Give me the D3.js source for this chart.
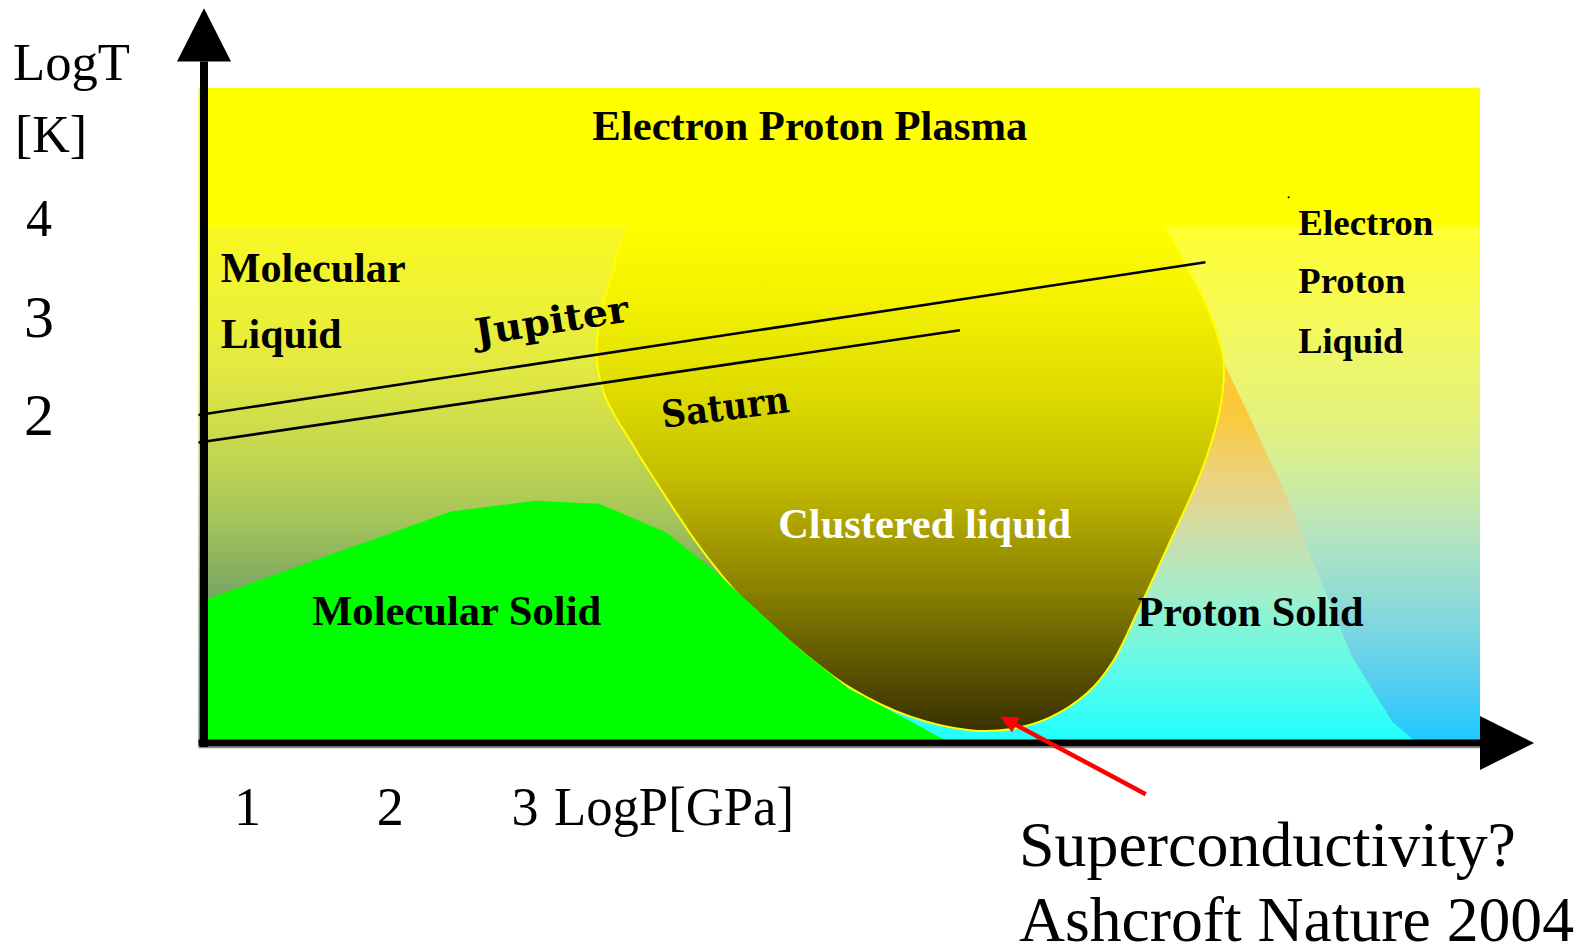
<!DOCTYPE html>
<html><head><meta charset="utf-8">
<script src="https://cdn.jsdelivr.net/npm/d3@7"></script>
<style>html,body{margin:0;padding:0;background:#fff;overflow:hidden}</style>
</head><body><svg id="c" width="1581" height="948"></svg>
<script>
// ---------- data (schematic LogP [GPa], LogT [K] units) ----------
const xTicks = [1, 2, 3];
const yTicks = [4, 3, 2];
const plasmaBand = [[0.66, 3.91], [9.9, 5.32]];
const molecularLiquid = [[0.66, 3.91], [5.72, 3.91], [5.72, -1.33], [0.66, -1.33]];
const electronProtonLiquid = [[5.72, 3.91], [9.9, 3.91], [9.9, -1.33], [5.72, -1.33]];
const protonSolid = [[8.06, 2.51], [8.24, 1.98], [8.51, 1.16], [8.75, 0.32], [8.98, -0.46], [9.16, -0.87],
  [9.27, -1.12], [9.45, -1.33], [5.57, -1.33], [5.29, -0.79], [6.44, 0.12], [7.88, 2.56]];
const molecularSolid = [[0.70, 0.12], [2.48, 1.02], [3.09, 1.13], [3.55, 1.10], [4.03, 0.81], [4.38, 0.42],
  [4.99, -0.37], [5.35, -0.78], [5.78, -1.10], [6.08, -1.33], [0.70, -1.33]];
const clusteredLiquid = [[3.84, 4.00], [3.63, 3.37], [3.53, 2.66], [3.59, 2.20], [3.79, 1.70], [4.02, 1.19],
  [4.28, 0.65], [4.56, 0.17], [5.00, -0.39], [5.36, -0.77], [5.79, -1.06], [6.22, -1.20], [6.51, -1.19],
  [6.80, -1.07], [7.07, -0.82], [7.25, -0.51], [7.43, 0.00], [7.66, 0.70], [7.90, 1.46], [8.03, 2.10],
  [8.05, 2.56], [7.97, 2.96], [7.79, 3.49], [7.52, 4.00], [5.72, 4.18]];
const jupiterPath = [[0.66, 2.00], [7.92, 3.55]];
const saturnPath = [[0.66, 1.72], [6.15, 2.86]];
const superArrow = [[7.49, -1.85], [6.44, -1.06]];
const strayMark = [8.52, 4.21];
const axisExtent = {pMin: 0.66, pMax: 9.9, pTip: 10.29, tMin: -1.33, tMax: 5.59, tTip: 6.13};
// region labels: [text, logP, logT, styleKey]
const boldLabels = [
  ["Electron Proton Plasma", 3.50, 4.79, "plasma"],
  ["Molecular", 0.82, 3.35, "molecular"],
  ["Liquid", 0.82, 2.68, "liquidL"],
  ["Clustered liquid", 4.84, 0.75, "cluster"],
  ["Molecular Solid", 1.48, -0.13, "molSolid"],
  ["Proton Solid", 7.43, -0.14, "protSolid"],
  ["Electron", 8.59, 3.83, "electron"],
  ["Proton", 8.59, 3.24, "proton"],
  ["Liquid", 8.59, 2.63, "liquidR"]
];
const planetLabels = [["Jupiter", 3.22, 2.83], ["Saturn", 4.47, 1.95]];
const noteLines = ["Superconductivity?", "Ashcroft Nature 2004"];

// ---------- styles ----------
const labelStyle = {
  plasma: {size: 42, w: 435, fill: "#000"},
  molecular: {size: 42, w: 185, fill: "#000"},
  liquidL: {size: 42, w: 121, fill: "#000"},
  cluster: {size: 42, w: 293, fill: "#fff"},
  molSolid: {size: 42, w: 289, fill: "#000"},
  protSolid: {size: 42, w: 226, fill: "#000"},
  electron: {size: 36, w: 135, fill: "#000"},
  proton: {size: 36, w: 107, fill: "#000"},
  liquidR: {size: 36, w: 105, fill: "#000"}
};
const serif = "'Liberation Serif','Times New Roman',serif";

const svg = d3.select("#c");
const x = d3.scaleLinear().domain([0.7, 9.9]).range([204, 1480]);
const y = d3.scaleLinear().domain([-1.33, 5.32]).range([743, 88]);
const line = d3.line().x(d => x(d[0])).y(d => y(d[1]));
const defs = svg.append("defs");
function grad(id, tTop, tBot, stops) {
  const g = defs.append("linearGradient").attr("id", id).attr("gradientUnits", "userSpaceOnUse")
    .attr("x1", 0).attr("x2", 0).attr("y1", y(tTop)).attr("y2", y(tBot));
  stops.forEach(([o, c]) => g.append("stop").attr("offset", o).attr("stop-color", c));
}
grad("gLeft", 3.91, -1.33, [[0, "#f8f820"], [0.14, "#eef234"], [0.26, "#e4ea40"], [0.374, "#d0de4a"],
  [0.47, "#bcd252"], [0.57, "#a4c45a"], [0.66, "#88b060"], [0.76, "#6ca064"], [1, "#4a8a60"]]);
grad("gRight", 3.91, -1.33, [[0, "#ffff30"], [0.14, "#f8fa50"], [0.26, "#eef66a"], [0.37, "#e4f27c"],
  [0.47, "#d4ee98"], [0.57, "#bce6b8"], [0.66, "#a2e0ca"], [0.76, "#84d8dc"], [0.88, "#56cef0"], [1, "#1ac8ff"]]);
grad("gProton", 2.56, -1.33, [[0, "#ffc830"], [0.15, "#fbc93c"], [0.3, "#ecd27c"], [0.4, "#dcd89a"],
  [0.5, "#c2e2b4"], [0.6, "#a6eec8"], [0.8, "#60fbe8"], [1, "#1effff"]]);
grad("gBlob", 4.0, -1.2, [[0, "#ffff00"], [0.17, "#f3f100"], [0.36, "#dcd800"], [0.52, "#c2ba00"],
  [0.64, "#a09800"], [0.75, "#827a00"], [0.87, "#5e5600"], [1, "#3a3000"]]);

// regions
svg.append("path").attr("d", line(molecularLiquid) + "Z").attr("fill", "url(#gLeft)");
svg.append("path").attr("d", line(electronProtonLiquid) + "Z").attr("fill", "url(#gRight)");
svg.append("path").attr("d", line(protonSolid) + "Z").attr("fill", "url(#gProton)");
svg.append("path").attr("d", d3.line().x(d => x(d[0])).y(d => y(d[1])).curve(d3.curveCatmullRomClosed.alpha(0.5))(clusteredLiquid))
  .attr("fill", "url(#gBlob)").attr("stroke", "#ffff00").attr("stroke-width", 2);
svg.append("path").attr("d", line(molecularSolid) + "Z").attr("fill", "#00ff00");
svg.append("rect").attr("x", x(plasmaBand[0][0])).attr("y", y(plasmaBand[1][1]))
  .attr("width", x(plasmaBand[1][0]) - x(plasmaBand[0][0])).attr("height", y(plasmaBand[0][1]) - y(plasmaBand[1][1]))
  .attr("fill", "#ffff00");
svg.append("circle").attr("cx", x(strayMark[0])).attr("cy", y(strayMark[1])).attr("r", 1).attr("fill", "#000");

// planet isentropes
[jupiterPath, saturnPath].forEach(p => svg.append("path").attr("d", line(p)).attr("stroke", "#000")
  .attr("stroke-width", 2.6).attr("fill", "none"));

// axes
const ax = x(0.7), ay = y(axisExtent.tMin);
svg.append("line").attr("x1", x(axisExtent.pMin)).attr("x2", x(axisExtent.pMax)).attr("y1", ay + 4.5).attr("y2", ay + 4.5)
  .attr("stroke", "#888").attr("stroke-width", 1.5);
svg.append("line").attr("x1", ax).attr("x2", ax).attr("y1", y(axisExtent.tMax)).attr("y2", ay + 4)
  .attr("stroke", "#000").attr("stroke-width", 8);
svg.append("line").attr("x1", x(axisExtent.pMin)).attr("x2", x(axisExtent.pMax)).attr("y1", ay).attr("y2", ay)
  .attr("stroke", "#000").attr("stroke-width", 7);
const yTip = y(axisExtent.tTip), yBase = y(axisExtent.tMax);
svg.append("path").attr("d", `M${ax},${yTip}L${ax - 27},${yBase}L${ax + 27},${yBase}Z`).attr("fill", "#000");
const xTip = x(axisExtent.pTip), xBase = x(axisExtent.pMax);
svg.append("path").attr("d", `M${xTip},${ay}L${xBase},${ay - 27}L${xBase},${ay + 27}Z`).attr("fill", "#000");

// tick labels
const yTickSize = {4: 52, 3: 60, 2: 60};
yTicks.forEach(v => svg.append("text").attr("x", 39).attr("y", y(v) + 0.34 * yTickSize[v])
  .attr("text-anchor", "middle").attr("font-family", serif).attr("font-size", yTickSize[v]).text(v));
xTicks.forEach(v => svg.append("text").attr("x", x(v) + (v === 2 ? 6 : 2)).attr("y", 825)
  .attr("text-anchor", "middle").attr("font-family", serif).attr("font-size", 54).text(v));
svg.append("text").attr("x", 554).attr("y", 825).attr("font-family", serif).attr("font-size", 54)
  .attr("textLength", 240).attr("lengthAdjust", "spacingAndGlyphs").text("LogP[GPa]");
svg.append("text").attr("x", 13).attr("y", 80).attr("font-family", serif).attr("font-size", 52)
  .attr("textLength", 117).attr("lengthAdjust", "spacingAndGlyphs").text("LogT");
svg.append("text").attr("x", 15).attr("y", 152).attr("font-family", serif).attr("font-size", 52).text("[K]");

// region labels
boldLabels.forEach(([t, p, v, k]) => {
  const st = labelStyle[k];
  svg.append("text").attr("x", x(p)).attr("y", y(v)).attr("font-family", serif).attr("font-weight", "bold")
    .attr("font-size", st.size).attr("fill", st.fill).attr("textLength", st.w).attr("lengthAdjust", "spacingAndGlyphs").text(t);
});
const planetStyle = {Jupiter: {w: 155, rot: -9}, Saturn: {w: 128, rot: -7}};
planetLabels.forEach(([t, p, v]) => {
  const st = planetStyle[t];
  svg.append("text").attr("transform", `translate(${x(p)},${y(v)}) rotate(${st.rot})`)
    .attr("text-anchor", "middle").attr("font-family", "'DejaVu Serif',serif").attr("font-weight", "bold")
    .attr("font-size", 37).attr("textLength", st.w).attr("lengthAdjust", "spacingAndGlyphs").text(t);
});

// superconductivity arrow
const [a0, a1] = superArrow.map(d => [x(d[0]), y(d[1])]);
const ang = Math.atan2(a1[1] - a0[1], a1[0] - a0[0]);
const hl = 18, hw = 8.5;
const bx = a1[0] - hl * Math.cos(ang), by = a1[1] - hl * Math.sin(ang);
svg.append("line").attr("x1", a0[0]).attr("y1", a0[1]).attr("x2", bx).attr("y2", by)
  .attr("stroke", "#ff0000").attr("stroke-width", 4.5);
svg.append("path").attr("d", `M${a1[0]},${a1[1]}L${bx + hw * Math.sin(ang)},${by - hw * Math.cos(ang)}L${bx - hw * Math.sin(ang)},${by + hw * Math.cos(ang)}Z`)
  .attr("fill", "#ff0000");
const noteW = [497, 555];
noteLines.forEach((t, i) => svg.append("text").attr("x", 1019).attr("y", 866 + i * 75)
  .attr("font-family", serif).attr("font-size", 63).attr("textLength", noteW[i]).attr("lengthAdjust", "spacingAndGlyphs").text(t));
</script></body></html>
